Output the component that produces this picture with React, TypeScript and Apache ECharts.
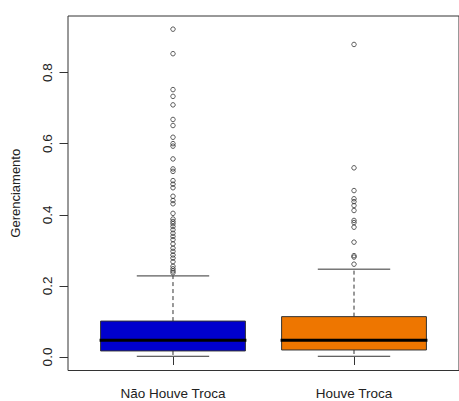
import React, { useEffect, useRef } from "react";
import * as echarts from "echarts";

const categories = ["Não Houve Troca", "Houve Troca"];
const boxColors = ["#0000CD", "#EE7600"];
// [lower whisker, Q1, median, Q3, upper whisker]
const boxStats = [
  [0.002, 0.017, 0.047, 0.101, 0.228],
  [0.002, 0.0197, 0.047, 0.1135, 0.247],
];
const outliersNaoHouve = [
  0.922, 0.853, 0.752, 0.733, 0.709, 0.668, 0.651, 0.618, 0.6, 0.593, 0.557,
  0.529, 0.522, 0.496, 0.486, 0.476, 0.452, 0.44, 0.431, 0.404, 0.388, 0.381,
  0.375, 0.367, 0.358, 0.348, 0.339, 0.33, 0.318, 0.306, 0.297, 0.287, 0.278,
  0.268, 0.255, 0.248, 0.242, 0.237,
];
const outliersHouve = [
  0.879, 0.532, 0.468, 0.445, 0.437, 0.426, 0.412, 0.384, 0.378, 0.365, 0.323,
  0.285, 0.281, 0.261,
];
const yTicks = [0, 0.2, 0.4, 0.6, 0.8];
const xTicks = [1, 2];

export default function App() {
  const ref = useRef<HTMLDivElement>(null);
  useEffect(() => {
    if (!ref.current) return;
    const chart = echarts.init(ref.current, null, { renderer: "svg" });
    const font = "'Liberation Sans', Arial, sans-serif";
    const boxData = boxStats.map((s, i) => [i + 1, ...s]);
    const outlierData = [
      ...outliersNaoHouve.map((v) => [1, v]),
      ...outliersHouve.map((v) => [2, v]),
    ];
    chart.setOption({
      animation: false,
      backgroundColor: "#ffffff",
      grid: {
        left: 68,
        top: 16,
        width: 398.5,
        height: 354.5,
        show: true,
        borderColor: "#333",
        borderWidth: 1,
        backgroundColor: "transparent",
      },
      xAxis: {
        type: "value",
        min: 0.42,
        max: 2.58,
        axisLine: { show: false },
        splitLine: { show: false },
        axisTick: {
          show: true,
          length: 8,
          customValues: xTicks,
          lineStyle: { color: "#333" },
        },
        axisLabel: {
          customValues: xTicks,
          formatter: (v: number) => categories[Math.round(v) - 1] ?? "",
          margin: 16,
          fontSize: 13.5,
          color: "#222",
          fontFamily: font,
        },
      },
      yAxis: {
        type: "value",
        min: -0.038,
        max: 0.959,
        name: "Gerenciamento",
        nameLocation: "middle",
        nameGap: 46,
        nameTextStyle: { fontSize: 13, color: "#222", fontFamily: font },
        axisLine: { show: false },
        splitLine: { show: false },
        axisTick: {
          show: true,
          length: 8.5,
          customValues: yTicks,
          lineStyle: { color: "#333" },
        },
        axisLabel: {
          customValues: yTicks,
          rotate: 90,
          margin: 14,
          fontSize: 13.5,
          color: "#222",
          fontFamily: font,
          formatter: (v: number) => v.toFixed(1),
        },
      },
      series: [
        {
          type: "custom",
          data: boxData,
          encode: { x: 0, y: [1, 2, 3, 4, 5] },
          renderItem: (params: any, api: any) => {
            const x = api.value(0);
            const mn = api.value(1);
            const q1 = api.value(2);
            const md = api.value(3);
            const q3 = api.value(4);
            const mx = api.value(5);
            const half = api.size([0.8, 0])[0] / 2;
            const capHalf = half / 2;
            const pMin = api.coord([x, mn]);
            const pQ1 = api.coord([x, q1]);
            const pMd = api.coord([x, md]);
            const pQ3 = api.coord([x, q3]);
            const pMax = api.coord([x, mx]);
            const cx = pMd[0];
            const color = boxColors[params.dataIndex];
            return {
              type: "group",
              children: [
                {
                  type: "line",
                  shape: { x1: cx, y1: pQ3[1], x2: cx, y2: pMax[1] },
                  style: { stroke: "#333", lineWidth: 1, lineDash: [4, 3] },
                },
                {
                  type: "line",
                  shape: { x1: cx, y1: pQ1[1], x2: cx, y2: pMin[1] },
                  style: { stroke: "#333", lineWidth: 1, lineDash: [4, 3] },
                },
                {
                  type: "line",
                  shape: { x1: cx - capHalf, y1: pMax[1], x2: cx + capHalf, y2: pMax[1] },
                  style: { stroke: "#333", lineWidth: 1 },
                },
                {
                  type: "line",
                  shape: { x1: cx - capHalf, y1: pMin[1], x2: cx + capHalf, y2: pMin[1] },
                  style: { stroke: "#333", lineWidth: 1 },
                },
                {
                  type: "rect",
                  shape: {
                    x: cx - half,
                    y: pQ3[1],
                    width: half * 2,
                    height: pQ1[1] - pQ3[1],
                  },
                  style: { fill: color, stroke: "#333", lineWidth: 1 },
                },
                {
                  type: "line",
                  shape: { x1: cx - half - 1, y1: pMd[1], x2: cx + half + 1, y2: pMd[1] },
                  style: { stroke: "#000", lineWidth: 3 },
                },
              ],
            };
          },
        },
        {
          type: "scatter",
          data: outlierData,
          symbol: "circle",
          symbolSize: 4.5,
          itemStyle: {
            color: "transparent",
            borderColor: "#333",
            borderWidth: 1,
          },
        },
      ],
    });
    return () => chart.dispose();
  }, []);
  return (
    <div
      ref={ref}
      style={{ position: "absolute", left: 0, top: 0, width: 459, height: 401 }}
    />
  );
}
